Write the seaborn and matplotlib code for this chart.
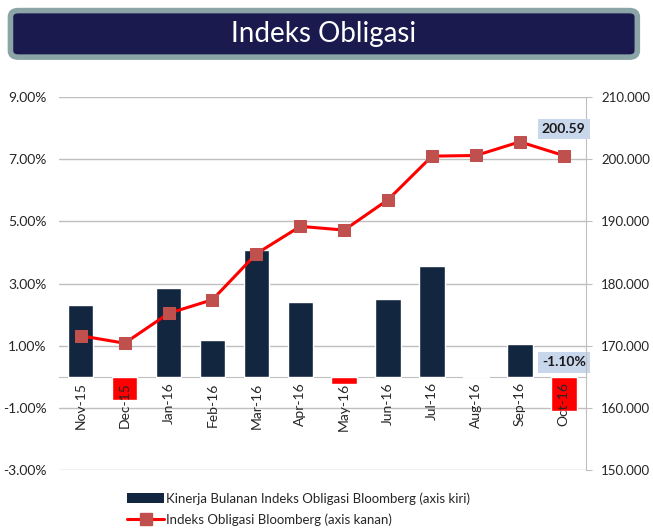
import numpy as np
import pandas as pd
import matplotlib
matplotlib.use("Agg")
import matplotlib.pyplot as plt
import seaborn as sns
from matplotlib.patches import FancyBboxPatch, Patch
from matplotlib.lines import Line2D
from matplotlib.ticker import FuncFormatter

# Data
months = ["Nov-15", "Dec-15", "Jan-16", "Feb-16", "Mar-16", "Apr-16",
          "May-16", "Jun-16", "Jul-16", "Aug-16", "Sep-16", "Oct-16"]
monthly_return = [2.32, -0.76, 2.87, 1.19, 4.08, 2.40,
                  -0.23, 2.50, 3.58, 0.04, 1.06, -1.10]
bond_index = [171.6, 170.4, 175.2, 177.4, 184.8, 189.2,
              188.6, 193.5, 200.5, 200.6, 202.8, 200.59]

bar_label = "Kinerja Bulanan Indeks Obligasi Bloomberg (axis kiri)"
line_label = "Indeks Obligasi Bloomberg (axis kanan)"

sns.set_style("white")
plt.rcParams['font.family'] = ['Lato', 'DejaVu Sans']

df = pd.DataFrame({"month": months, "ret": monthly_return, "idx": bond_index})
df["pos"] = np.arange(len(df))
navy = "#13263F"
red = "#FF0000"
bar_colors = [navy if v >= 0 else red for v in monthly_return]

fig = plt.figure(figsize=(6.53, 5.29), dpi=100)
ax = fig.add_axes([0.090, 0.1115, 0.807, 0.705])

sns.barplot(data=df, x="month", y="ret", hue="month", palette=bar_colors,
            legend=False, width=0.58, saturation=1, ax=ax, zorder=2)

ax.set_ylim(-3, 9)
ax.set_yticks([-3, -1, 1, 3, 5, 7, 9])
ax.yaxis.set_major_formatter(FuncFormatter(lambda v, p: f"{v:.2f}%"))
ax.grid(axis="y", color="#BFBFBF", linewidth=1, zorder=0)
ax.set_axisbelow(True)
ax.set_xlim(-0.5, len(months) - 0.5)
ax.set_xlabel("")
ax.set_ylabel("")
for s in ["top", "left", "right"]:
    ax.spines[s].set_visible(False)
ax.spines["bottom"].set_position(("data", 0))
ax.spines["bottom"].set_color("#BFBFBF")
ax.spines["bottom"].set_zorder(1)
ax.xaxis.set_zorder(3)
ax.tick_params(axis="x", length=0, pad=4, labelsize=10, labelrotation=90)
ax.tick_params(axis="y", length=0, pad=9, labelsize=10, labelcolor="#262626")

# right axis
ax2 = ax.twinx()
sns.lineplot(data=df, x="pos", y="idx", ax=ax2, color=red, linewidth=2.2,
             marker="s", markersize=9, markerfacecolor="#C0504D",
             markeredgecolor="#C0504D", zorder=5)
ax2.set_ylim(150, 210)
ax2.set_yticks([150, 160, 170, 180, 190, 200, 210])
ax2.yaxis.set_major_formatter(FuncFormatter(lambda v, p: f"{v:.3f}"))
ax2.set_xlim(-0.5, len(months) - 0.5)
ax2.set_xlabel("")
ax2.set_ylabel("")
for s in ["top", "left", "bottom"]:
    ax2.spines[s].set_visible(False)
ax2.spines["right"].set_color("#BFBFBF")
ax2.tick_params(axis="y", length=4, color="#BFBFBF", pad=7, labelsize=9.5,
                labelcolor="#262626")

# data labels
box = dict(boxstyle="square,pad=0.3", facecolor="#C9D7EC", edgecolor="none")
ax2.annotate(f"{bond_index[-1]:.2f}", (len(months) - 1, bond_index[-1]),
             xytext=(0, 15), textcoords="offset points", ha="center",
             va="bottom", fontsize=10, fontweight="bold", color="#1A1A1A",
             bbox=box, zorder=6)
ax.annotate(f"{monthly_return[-1]:.2f}%", (len(months) - 1, 0),
            xytext=(0, 6), textcoords="offset points", ha="center",
            va="bottom", fontsize=10, fontweight="bold", color="#1A1A1A",
            bbox=box, zorder=6)

# title banner
banner = FancyBboxPatch((0.016, 0.892), 0.960, 0.088,
                        boxstyle="round,pad=0.0,rounding_size=0.012",
                        transform=fig.transFigure, facecolor="#1B1A4E",
                        edgecolor="#8BA5A7", linewidth=4, zorder=1)
fig.patches.append(banner)
fig.text(0.496, 0.936, "Indeks Obligasi", ha="center", va="center",
         fontsize=20, color="white")

# legend
handles = [Patch(facecolor=navy, edgecolor="none"),
           Line2D([0], [0], color=red, linewidth=2.2, marker="s",
                  markersize=9, markerfacecolor="#C0504D",
                  markeredgecolor="#C0504D")]
fig.legend(handles, [bar_label, line_label], loc="upper left",
           bbox_to_anchor=(0.187, 0.08), frameon=False, fontsize=9.5,
           handlelength=2.8, handletextpad=0.1, labelspacing=0.65,
           borderaxespad=0)

fig.savefig("out.png", dpi=100)
